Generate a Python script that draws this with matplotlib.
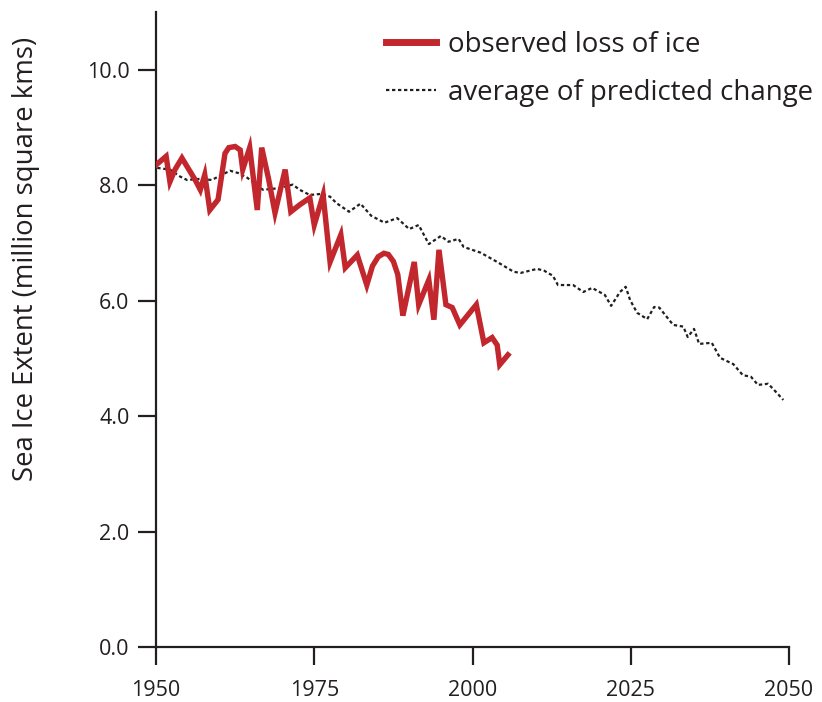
import matplotlib
matplotlib.use("Agg")
import matplotlib.pyplot as plt

plt.rcParams['font.family'] = ['Open Sans', 'DejaVu Sans']

# observed loss of ice (year, million sq km)
obs_years = [1950.0, 1951.6, 1952.2, 1953.0, 1954.1, 1955.2, 1956.2, 1957.0, 1957.7, 1958.5,
             1959.8, 1960.9, 1961.5, 1962.5, 1963.3, 1963.7, 1964.8, 1966.0, 1966.7, 1967.8,
             1968.8, 1970.4, 1971.3, 1972.7, 1974.3, 1975.0, 1976.4, 1977.5, 1979.2, 1979.9,
             1981.8, 1983.3, 1984.2, 1985.1, 1986.0, 1986.7, 1987.5, 1988.2, 1989.0, 1990.8,
             1991.5, 1993.1, 1993.9, 1994.7, 1995.8, 1996.8, 1998.0, 2000.6, 2001.8, 2003.1,
             2003.9, 2004.3, 2005.6]
obs_values = [8.35, 8.50, 8.06, 8.27, 8.47, 8.27, 8.09, 7.92, 8.18, 7.57,
              7.75, 8.55, 8.65, 8.67, 8.61, 8.27, 8.65, 7.57, 8.65, 8.10,
              7.52, 8.27, 7.54, 7.66, 7.78, 7.31, 7.83, 6.67, 7.14, 6.57,
              6.79, 6.27, 6.60, 6.76, 6.82, 6.80, 6.68, 6.45, 5.74, 6.67,
              5.93, 6.36, 5.67, 6.88, 5.93, 5.88, 5.58, 5.93, 5.27, 5.36,
              5.23, 4.89, 5.06]

# average of predicted change
pred_years = [1950.2, 1952.2, 1953.8, 1954.9, 1957.0, 1958.8, 1960.4, 1961.7, 1963.0, 1964.4,
              1966.9, 1969.6, 1971.6, 1972.7, 1974.3, 1976.2, 1977.5, 1978.5, 1980.5, 1982.3,
              1984.0, 1986.1, 1988.1, 1990.0, 1991.5, 1993.1, 1995.0, 1996.2, 1997.8, 1998.6,
              2001.3, 2003.9, 2006.5, 2007.6, 2010.2, 2011.3, 2012.7, 2013.5, 2015.9, 2017.5,
              2018.9, 2020.9, 2021.9, 2023.3, 2024.2, 2024.9, 2026.0, 2027.6, 2028.7, 2029.5,
              2031.7, 2033.3, 2034.0, 2035.0, 2035.8, 2037.8, 2039.1, 2041.2, 2042.7, 2044.0,
              2045.1, 2046.7, 2047.5, 2049.1]
pred_values = [8.30, 8.27, 8.15, 8.09, 8.11, 8.09, 8.18, 8.25, 8.21, 8.13,
               7.92, 7.95, 8.01, 7.92, 7.83, 7.85, 7.80, 7.69, 7.54, 7.68,
               7.47, 7.35, 7.43, 7.24, 7.31, 6.98, 7.12, 7.02, 7.07, 6.93,
               6.83, 6.67, 6.50, 6.48, 6.55, 6.52, 6.43, 6.27, 6.27, 6.15,
               6.22, 6.10, 5.91, 6.15, 6.24, 6.01, 5.79, 5.68, 5.89, 5.88,
               5.58, 5.55, 5.37, 5.51, 5.25, 5.27, 5.01, 4.90, 4.71, 4.68,
               4.54, 4.56, 4.47, 4.28]

x_ticks = [1950, 1975, 2000, 2025, 2050]
y_ticks = [0.0, 2.0, 4.0, 6.0, 8.0, 10.0]
y_label = "Sea Ice Extent (million square kms)"
legend_labels = ["observed loss of ice", "average of predicted change"]

fig = plt.figure(figsize=(8.22, 7.02), dpi=100)
ax = fig.add_axes([156/822, 1 - 647/702, (789-156)/822, (647-12)/702])

red = '#C1272D'
dark = '#231F20'
l1, = ax.plot(obs_years, obs_values, color=red, lw=3.9, solid_joinstyle='miter', zorder=3)
l2, = ax.plot(pred_years, pred_values, color=dark, lw=1.6, dashes=(1.5, 1.2), zorder=2)

ax.set_xlim(1950, 2050)
ax.set_ylim(0, 11)
ax.set_xticks(x_ticks)
ax.set_yticks(y_ticks)
ax.set_yticklabels([f"{v:.1f}" for v in y_ticks])
for s in ['top', 'right']:
    ax.spines[s].set_visible(False)
for s in ['left', 'bottom']:
    ax.spines[s].set_linewidth(1.6)
    ax.spines[s].set_color(dark)
ax.tick_params(axis='both', direction='out', length=13, width=1.6, color=dark,
               labelsize=15.5, labelcolor=dark)
ax.tick_params(axis='y', pad=6)
ax.tick_params(axis='x', pad=11)
ax.set_ylabel(y_label, fontsize=19.8, color=dark)
ax.yaxis.set_label_coords(-0.183, 0.611)

leg = ax.legend([l1, l2], legend_labels, loc='upper left', bbox_to_anchor=(386/822, 1 - 31/702),
                bbox_transform=fig.transFigure, frameon=False, fontsize=19.9,
                handlelength=1.8, handletextpad=0.45, labelspacing=0.72, borderpad=0,
                borderaxespad=0)
for t in leg.get_texts():
    t.set_color(dark)
leg.get_lines()[0].set_linewidth(5)

fig.savefig('out.png', dpi=100)
